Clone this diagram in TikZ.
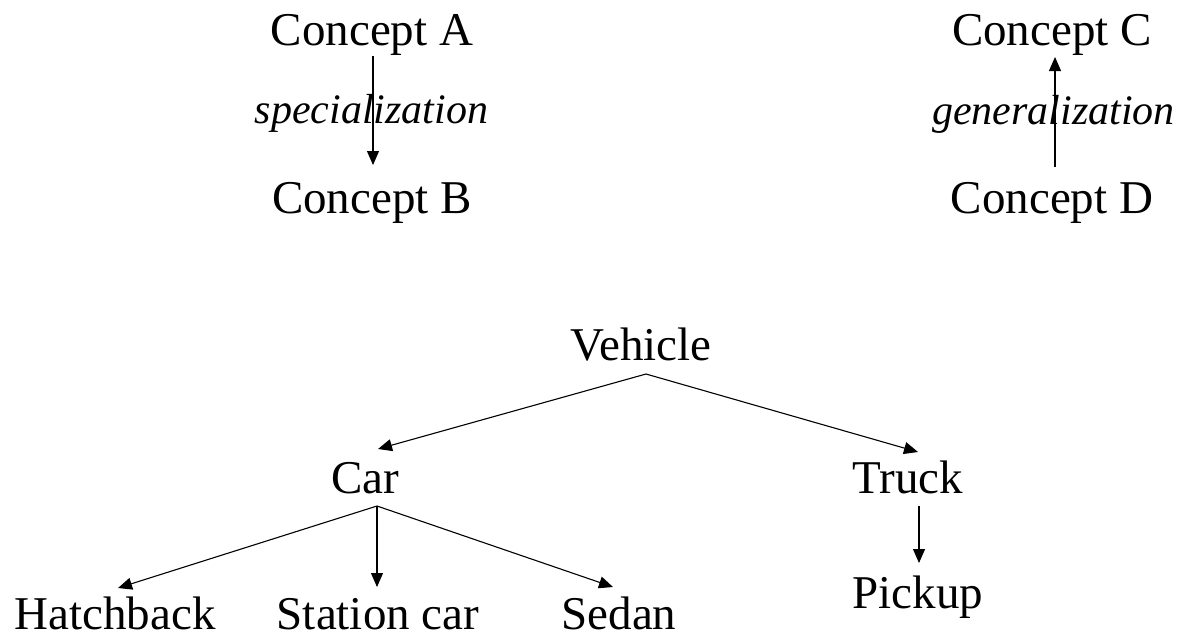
\documentclass[tikz,border=0pt]{standalone}
\usepackage{fontspec}
\setmainfont{Liberation Serif}
\usetikzlibrary{arrows.meta,calc}
\tikzset{
  lbl/.style={font=\fontsize{47}{56}\selectfont, inner sep=0pt, anchor=base},
  rel/.style={font=\fontsize{42}{50}\selectfont\itshape, inner sep=0pt, anchor=base},
  arr/.style={-{Triangle[length=14pt,width=12pt]}, line width=1.1pt, draw=black}
}
\begin{document}
\begin{tikzpicture}[x=1pt,y=-1pt]
\useasboundingbox[fill=white] (0,0) rectangle (1180,633);
% top concepts
\node[lbl] (A) at (372,45) {Concept A};
\node[lbl] (B) at (372,213) {Concept B};
\node[lbl] (C) at (1052,45) {Concept C};
\node[lbl] (D) at (1052,213) {Concept D};
\draw[arr] ($(A.base)+(1,11)$) -- node[rel,pos=0.62,xshift=-1.5pt] {specialization} ($(B.base)+(1,-48)$);
\draw[arr] ($(D.base)+(3,-46)$) -- node[rel,pos=0.39,xshift=-1.5pt] {generalization} ($(C.base)+(3,12)$);
% tree
\node[lbl] (veh) at (641,360) {Vehicle};
\node[lbl] (car) at (365,493) {Car};
\node[lbl] (truck) at (908,493) {Truck};
\node[lbl] (hatch) at (115,629) {Hatchback};
\node[lbl] (station) at (378,629) {Station car};
\node[lbl] (sedan) at (619,629) {Sedan};
\node[lbl] (pickup) at (918,608) {Pickup};
\draw[arr] ($(veh.base)+(5,14)$) -- ($(car.base)+(13,-44)$);
\draw[arr] ($(veh.base)+(5,14)$) -- ($(truck.base)+(10,-41)$);
\draw[arr] ($(car.base)+(12,13)$) -- ($(hatch.base)+(3,-41)$);
\draw[arr] ($(car.base)+(12,13)$) -- ($(station.base)+(-1,-42)$);
\draw[arr] ($(car.base)+(12,13)$) -- ($(sedan.base)+(-6,-42)$);
\draw[arr] ($(truck.base)+(11,13)$) -- ($(pickup.base)+(1,-45)$);
\end{tikzpicture}
\end{document}
